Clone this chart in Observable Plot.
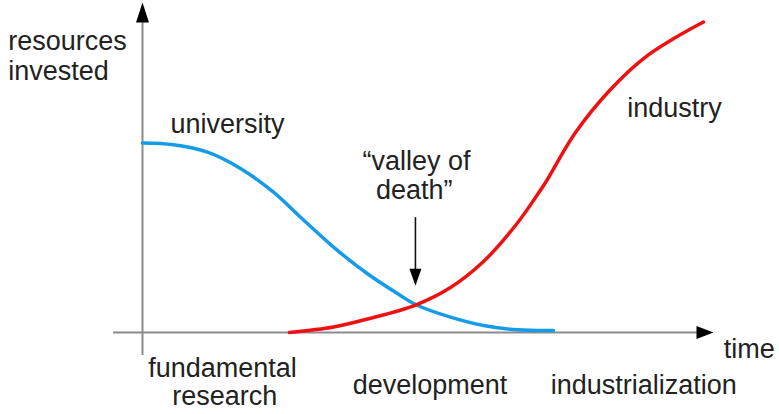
<!DOCTYPE html>
<html>
<head>
<meta charset="utf-8">
<script src="https://cdn.jsdelivr.net/npm/d3@7"></script>
<script src="https://cdn.jsdelivr.net/npm/@observablehq/plot@0.6"></script>
<style>
  html, body { margin: 0; padding: 0; background: #fff; }
  #chart svg { display: block; }
</style>
</head>
<body>
<div id="chart"></div>
<script>
// ---- data (time units 0..100, resources units 0..100) ----
const universityTime = [0, 5.43, 11.38, 17.16, 22.94, 27.67, 31.17, 33.45, 39.40, 45.18, 47.81, 53.94, 59.72, 65.67, 71.98];
const universityRes  = [57.42, 56.88, 54.64, 49.70, 42.52, 34.94, 29.39, 25.85, 17.79, 11.21, 8.48, 4.64, 2.12, 0.82, 0.61];

const industryTime = [25.74, 33.45, 39.40, 47.81, 53.94, 59.72, 65.32, 68.83, 70.58, 75.83, 81.96, 87.74, 93.35, 98.25];
const industryRes  = [0, 1.67, 4.09, 8.33, 13.64, 21.52, 32.42, 40.91, 45.45, 60.61, 73.64, 83.03, 89.39, 94.09];

const labelText = ["resources", "invested", "university", "\u201Cvalley of", "death\u201D", "industry",
                   "time", "fundamental", "research", "development", "industrialization"];
const labelTime = [-23.5, -23.5, 4.9, 48.0, 47.6, 84.9, 101.8, 14.0, 14.4, 36.8, 71.5];
const labelRes  = [85.5, 76.4, 60.6, 49.1, 40.6, 65.2, -7.6, -13.6, -22.1, -18.5, -18.5];
const labelAnchor = ["start", "start", "start", "middle", "middle", "start", "start", "middle", "middle", "start", "start"];

const valleyTime = 47.8;
const valleyFrom = 34.8;
const valleyTo = 17;

// ---- tables built from the arrays ----
const university = universityTime.map((t, i) => ({t, v: universityRes[i]}));
const industry = industryTime.map((t, i) => ({t, v: industryRes[i]}));
const labels = labelText.map((s, i) => ({s, t: labelTime[i], v: labelRes[i], a: labelAnchor[i]}));

// arrow head symbols (tip at origin)
function head(dir, L, w) {
  return {
    draw(ctx) {
      if (dir === "up") { ctx.moveTo(0, 0); ctx.lineTo(-w / 2, L); ctx.lineTo(w / 2, L); }
      else if (dir === "down") { ctx.moveTo(0, 0); ctx.lineTo(-w / 2, -L); ctx.lineTo(w / 2, -L); }
      else { ctx.moveTo(0, 0); ctx.lineTo(-L, -w / 2); ctx.lineTo(-L, w / 2); }
      ctx.closePath();
    }
  };
}

const font = "Liberation Sans, Arial, sans-serif";
const axisGray = "#8c8c8c";

const plot = Plot.plot({
  width: 779,
  height: 414,
  margin: 0,
  x: {domain: [0, 100], range: [142, 713], axis: null},
  y: {domain: [0, 100], range: [332, 2], axis: null},
  style: {fontFamily: font, background: "#fff"},
  marks: [
    // axes
    Plot.ruleX([0], {y1: -7, y2: 95, stroke: axisGray, strokeWidth: 2}),
    Plot.ruleY([0], {x1: -5.1, x2: 98, stroke: axisGray, strokeWidth: 2}),
    Plot.dot([{t: 0, v: 100}], {x: "t", y: "v", symbol: head("up", 20, 13), fill: "#000", stroke: null, r: 5}),
    Plot.dot([{t: 100, v: 0}], {x: "t", y: "v", symbol: head("right", 17, 13), fill: "#000", stroke: null, r: 5}),
    // curves
    Plot.line(university, {x: "t", y: "v", curve: "catmull-rom", stroke: "#159be8", strokeWidth: 3.5}),
    Plot.line(industry, {x: "t", y: "v", curve: "catmull-rom", stroke: "#ee1111", strokeWidth: 3.5}),
    // valley of death arrow
    Plot.ruleX([valleyTime], {y1: valleyFrom, y2: valleyTo + 2, stroke: "#111", strokeWidth: 1.6}),
    Plot.dot([{t: valleyTime, v: valleyTo - 2.8}], {x: "t", y: "v", symbol: head("down", 17, 12), fill: "#000", stroke: null, r: 5}),
    // labels
    Plot.text(labels.filter(d => d.a === "start"), {x: "t", y: "v", text: "s", textAnchor: "start", lineAnchor: "bottom",
      fontSize: 27, fill: "#222", fontFamily: font}),
    Plot.text(labels.filter(d => d.a === "middle"), {x: "t", y: "v", text: "s", textAnchor: "middle", lineAnchor: "bottom",
      fontSize: 27, fill: "#222", fontFamily: font})
  ]
});

document.getElementById("chart").appendChild(plot);
</script>
</body>
</html>
